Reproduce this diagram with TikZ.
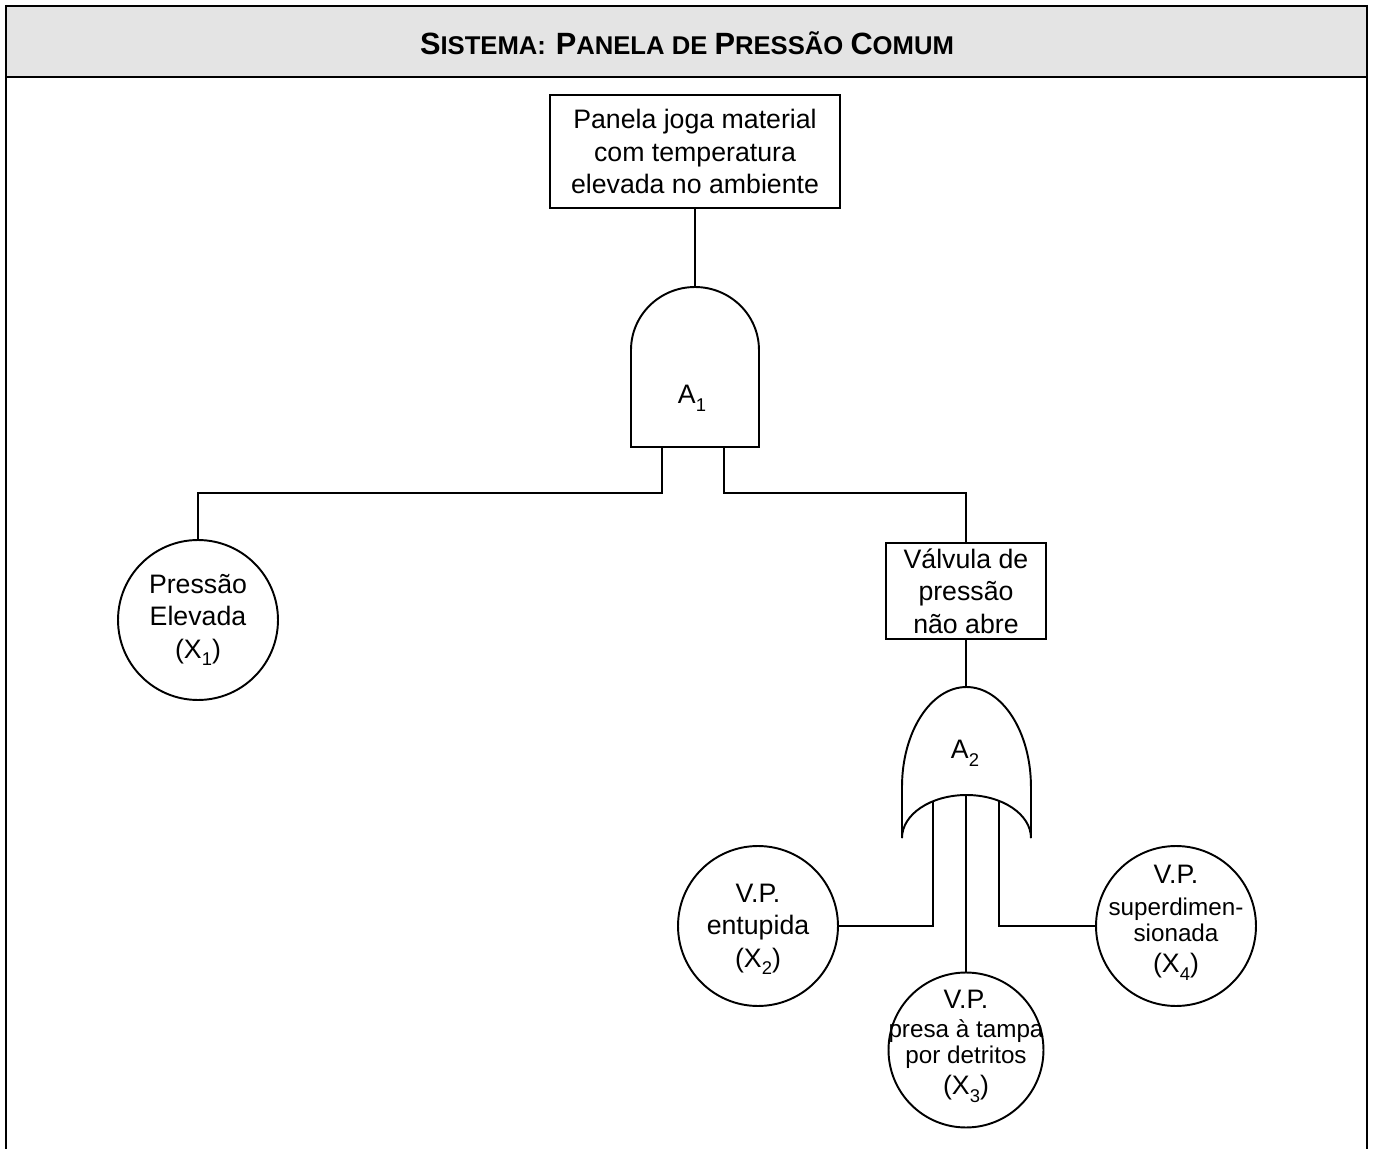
\documentclass[tikz,border=0pt]{standalone}
\usepackage{fontspec}
\setmainfont{Liberation Sans}
\definecolor{cabecalho}{RGB}{228,228,228}
\newcommand{\menor}{\fontsize{13.8}{16}\selectfont}
\newcommand{\vgrande}{\fontsize{17.5}{20}\selectfont}
\newcommand{\vpequeno}{\fontsize{14.6}{20}\selectfont}
\newcommand{\indice}[1]{\raisebox{-0.55ex}{\fontsize{10.5}{11}\selectfont #1}}
\tikzset{
  evento/.style={draw, align=center, inner sep=1pt, font=\fontsize{15.2}{18.4}\selectfont},
  basico/.style={draw, circle, minimum size=3.2cm, inner sep=0pt},
  rotulo/.style={align=center, inner sep=0pt, font=\fontsize{15.2}{18.4}\selectfont},
  porta/.style={font=\fontsize{15.2}{16}\selectfont}
}
\begin{document}
\begin{tikzpicture}[x=0.02cm, y=-0.02cm, line width=1.1pt]
\useasboundingbox (0,0) rectangle (1374,1149);
% cabecalho
\fill[cabecalho] (6,6) rectangle (1367,77);
\draw (6,6) -- (1367,6);
\draw[line width=1.7pt] (6,77) -- (1367,77);
\draw[line width=1.5pt] (6,5) -- (6,1149);
\draw[line width=1.5pt] (1367,5) -- (1367,1149);
\node[font=\bfseries] (titulo) at (687,43) {{\vgrande S}{\vpequeno ISTEMA:}\ \ {\vgrande P}{\vpequeno ANELA DE }{\vgrande P}{\vpequeno RESSÃO }{\vgrande C}{\vpequeno OMUM}};

% eventos
\node[evento, minimum width=5.8cm, minimum height=2.26cm] (topo) at (695,151.5) {Panela joga material\\ com temperatura\\ elevada no ambiente};
\node[evento, minimum width=3.2cm, minimum height=1.92cm] (valvula) at (966,591) {Válvula de\\ pressão\\ não abre};

% porta E
\draw (631,447) -- (631,350) arc[start angle=180, end angle=0, x radius=1.28cm, y radius=1.26cm] -- (759,447) -- cycle;
\node[porta] (a1) at (692,398) {A\indice{1}};
\coordinate (a1top) at (695,287);
\coordinate (a1l) at (662,447);
\coordinate (a1r) at (724,447);
\coordinate (jl) at (662,493);
\coordinate (jr) at (724,493);

% porta OU
\draw (902,838) -- (902,787) arc[start angle=180, end angle=0, x radius=1.29cm, y radius=2cm] -- (1031,838);
\draw (902,838) arc[start angle=180, end angle=0, x radius=1.29cm, y radius=0.86cm];
\node[porta] (a2) at (965,753) {A\indice{2}};
\coordinate (a2top) at (966,687);
\coordinate (a2l) at (933,801);
\coordinate (a2c) at (966,795);
\coordinate (a2r) at (999,801);

% eventos basicos
\node[basico, label={[rotulo]center:{Pressão\\ Elevada\\ (X\indice{1})}}] (x1) at (198,620) {};
\node[basico, label={[rotulo, yshift=-2pt]center:{V.P.\\ entupida\\ (X\indice{2})}}] (x2) at (758,926) {};
\node[basico, minimum size=3.1cm, label={[rotulo, yshift=2pt]center:{V.P.\\[-2pt] {\menor presa à tampa}\\[-3.5pt] {\menor por detritos}\\[-1pt] (X\indice{3})}}] (x3) at (966,1050) {};
\node[basico, label={[rotulo, yshift=2pt]center:{V.P.\\ {\menor superdimen-}\\[-3.5pt] {\menor sionada}\\[-1pt] (X\indice{4})}}] (x4) at (1176,926) {};

% ligacoes
\draw (topo) -- (a1top);
\draw (a1l) -- (jl) -| (x1.north);
\draw (a1r) -- (jr) -| (valvula.north);
\draw (valvula) -- (a2top);
\draw (a2l) |- (x2.east);
\draw (a2c) -- (x3.north);
\draw (a2r) |- (x4.west);
\end{tikzpicture}
\end{document}
